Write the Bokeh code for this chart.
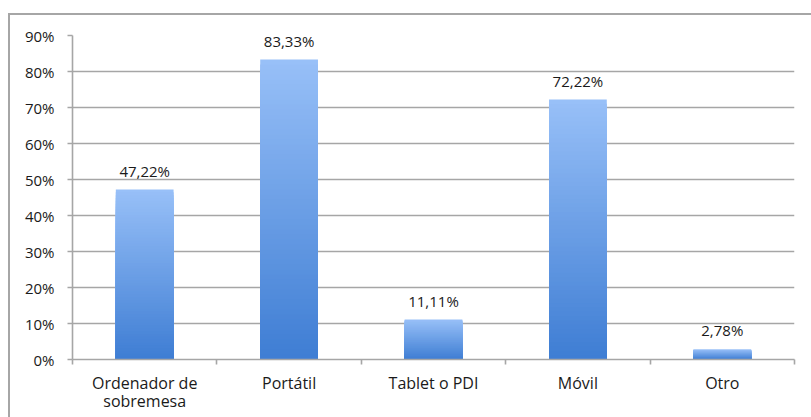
from bokeh.plotting import figure
from bokeh.models import Range1d, FixedTicker, NumeralTickFormatter, ColumnDataSource, InlineStyleSheet
from bokeh.core.properties import value
from bokeh.embed import file_html
from bokeh.resources import INLINE

categories = ["Ordenador de\nsobremesa", "Portátil", "Tablet o PDI", "Móvil", "Otro"]
values = [0.4722, 0.8333, 0.1111, 0.7222, 0.0278]
y_ticks = [0.0, 0.1, 0.2, 0.3, 0.4, 0.5, 0.6, 0.7, 0.8, 0.9]

FONT = "Open Sans"
GRID = "#a6a6a6"
TEXT = "#1a1a1a"
TOP_RGB = (152, 192, 248)
BOT_RGB = (63, 126, 212)

xs = [i + 0.5 for i in range(len(categories))]

p = figure(width=811, height=417, output_backend="svg", toolbar_location=None,
           x_range=Range1d(0, len(categories)), y_range=Range1d(0, 0.9),
           min_border_left=72, min_border_right=17, min_border_top=35, min_border_bottom=58)
p.outline_line_color = None
p.background_fill_color = "white"
p.border_fill_color = "white"

# gradient bars: overlapping bars, lightest (full height) first, darker shorter ones on top
N = 60
sx, st, sc = [], [], []
for x, v in zip(xs, values):
    for k in range(N - 1, -1, -1):
        f = k / (N - 1)
        r = int(BOT_RGB[0] + (TOP_RGB[0] - BOT_RGB[0]) * f)
        g = int(BOT_RGB[1] + (TOP_RGB[1] - BOT_RGB[1]) * f)
        b = int(BOT_RGB[2] + (TOP_RGB[2] - BOT_RGB[2]) * f)
        sx.append(x)
        st.append(v * (k + 1) / N)
        sc.append("#%02x%02x%02x" % (r, g, b))
src = ColumnDataSource(dict(x=sx, top=st, color=sc))
p.vbar(x="x", bottom=0, top="top", width=0.4, fill_color="color",
       line_color=None, source=src)

labels = [("%.2f%%" % (v * 100)).replace(".", ",") for v in values]
p.text(x=xs, y=values, text=labels, text_align="center", text_baseline="bottom",
       y_offset=-9, text_font=value(FONT), text_font_size="15px", text_color=TEXT)

# axes
p.xgrid.visible = False
p.ygrid.ticker = FixedTicker(ticks=y_ticks)
p.ygrid.grid_line_color = GRID
p.ygrid.grid_line_width = 1.6

p.yaxis.ticker = FixedTicker(ticks=y_ticks)
p.yaxis.formatter = NumeralTickFormatter(format="0%")
p.yaxis.axis_line_color = GRID
p.yaxis.axis_line_width = 1.6
p.yaxis.major_tick_line_color = GRID
p.yaxis.major_tick_line_width = 1.6
p.yaxis.major_tick_out = 5
p.yaxis.major_tick_in = 0
p.yaxis.minor_tick_line_color = None
p.yaxis.major_label_text_font = FONT
p.yaxis.major_label_text_font_size = "15px"
p.yaxis.major_label_text_color = TEXT
p.yaxis.major_label_standoff = 13

p.xaxis.ticker = FixedTicker(ticks=xs, minor_ticks=list(range(len(categories) + 1)))
p.xaxis.major_label_overrides = {x: c for x, c in zip(xs, categories)}
p.xaxis.axis_line_color = GRID
p.xaxis.axis_line_width = 1.6
p.xaxis.major_tick_line_color = None
p.xaxis.minor_tick_line_color = GRID
p.xaxis.minor_tick_line_width = 1.6
p.xaxis.minor_tick_out = 5
p.xaxis.minor_tick_in = 0
p.xaxis.major_label_text_font = FONT
p.xaxis.major_label_text_font_size = "16px"
p.xaxis.major_label_text_line_height = 0.85
p.xaxis.major_label_text_color = TEXT
p.xaxis.major_label_standoff = 6

# outer chart border (left and top visible in the window)
p.stylesheets = [InlineStyleSheet(css="""
:host::after {
  content: "";
  position: absolute;
  left: 8px; top: 13px; width: 900px; height: 900px;
  border: 2px solid #a6a6a6;
  box-sizing: border-box;
  pointer-events: none;
  z-index: 10;
}
""")]

open("out.html", "w").write(file_html(p, INLINE))
